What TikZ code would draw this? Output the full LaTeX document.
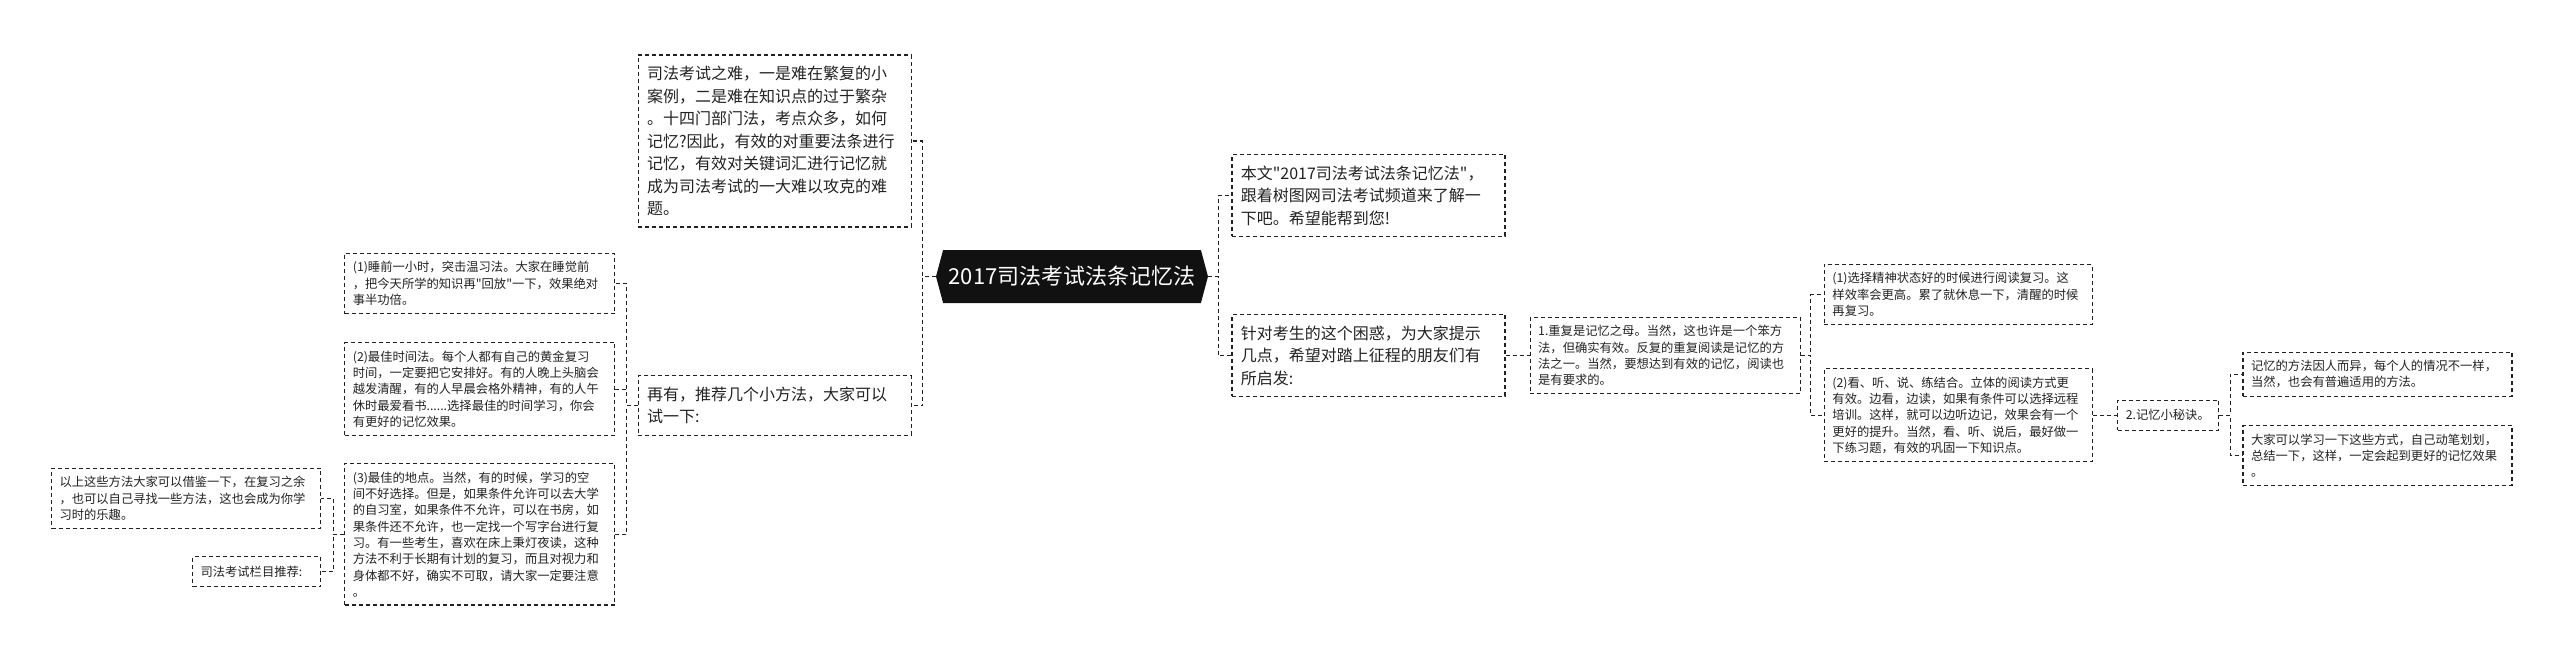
\documentclass[tikz,border=0pt]{standalone}
\usepackage{fontspec}
\newfontfamily\cjkfont{Noto Sans CJK SC}
\usetikzlibrary{positioning,shapes.symbols}
\definecolor{ink}{HTML}{222222}
\definecolor{rootfill}{HTML}{111111}

\begin{document}
\begin{tikzpicture}[
  box/.style={draw=ink, text=ink, line width=1.3pt, dash pattern=on 4pt off 3pt, align=left},
  midbox/.style={box, inner xsep=9pt, inner ysep=11pt, text width=255pt,
    font=\cjkfont\fontsize{16}{22.5}\selectfont},
  smallbox/.style={box, inner xsep=8pt, inner ysep=8pt, text width=254pt,
    font=\cjkfont\fontsize{12.3}{16.3}\selectfont},
  rootbox/.style={signal, signal to=west and east, signal pointer angle=150,
    fill=rootfill, text=white, minimum width=272pt, minimum height=53pt,
    font=\cjkfont\fontsize{22}{26}\selectfont},
  link/.style={draw=ink, line width=1.3pt, dash pattern=on 4pt off 3pt},
  elbow/.style={to path={-- ++(#1,0) |- (\tikztotarget)}}
]
  \useasboundingbox (0,0) rectangle (2560pt,-664pt);
  \node (0) [rootbox] at (1072pt,-276.5pt) {2017司法考试法条记忆法};
  % left branch
  \node (1) [midbox, left=24pt of 0, yshift=135.5pt] {司法考试之难，一是难在繁复的小\\案例，二是难在知识点的过于繁杂\\。十四门部门法，考点众多，如何\\记忆?因此，有效的对重要法条进行\\记忆，有效对关键词汇进行记忆就\\成为司法考试的一大难以攻克的难\\题。};
  \node (2) [midbox, left=24pt of 0, yshift=-129pt] {再有，推荐几个小方法，大家可以\\试一下:};
  \node (3) [smallbox, left=22pt of 2, yshift=122pt] {(1)睡前一小时，突击温习法。大家在睡觉前\\，把今天所学的知识再"回放"一下，效果绝对\\事半功倍。};
  \node (4) [smallbox, below=28pt of 3] {(2)最佳时间法。每个人都有自己的黄金复习\\时间，一定要把它安排好。有的人晚上头脑会\\越发清醒，有的人早晨会格外精神，有的人午\\休时最爱看书......选择最佳的时间学习，你会\\有更好的记忆效果。};
  \node (5) [smallbox, below=27pt of 4] {(3)最佳的地点。当然，有的时候，学习的空\\间不好选择。但是，如果条件允许可以去大学\\的自习室，如果条件不允许，可以在书房，如\\果条件还不允许，也一定找一个写字台进行复\\习。有一些考生，喜欢在床上秉灯夜读，这种\\方法不利于长期有计划的复习，而且对视力和\\身体都不好，确实不可取，请大家一定要注意\\。};
  \node (6) [smallbox, text width=253pt, left=23pt of 5, yshift=36pt] {以上这些方法大家可以借鉴一下，在复习之余\\，也可以自己寻找一些方法，这也会成为你学\\习时的乐趣。};
  \node (7) [smallbox, text width=112pt, minimum height=30pt, below=27pt of 6.south east, anchor=north east] {司法考试栏目推荐:};
  % right branch
  \node (8) [midbox, right=23pt of 0, yshift=81pt] {本文"2017司法考试法条记忆法"，\\跟着树图网司法考试频道来了解一\\下吧。希望能帮到您!};
  \node (9) [midbox, right=23pt of 0, yshift=-79pt] {针对考生的这个困惑，为大家提示\\几点，希望对踏上征程的朋友们有\\所启发:};
  \node (10) [smallbox, right=24pt of 9] {1.重复是记忆之母。当然，这也许是一个笨方\\法，但确实有效。反复的重复阅读是记忆的方\\法之一。当然，要想达到有效的记忆，阅读也\\是有要求的。};
  \node (11) [smallbox, text width=252pt, right=23pt of 10, yshift=61pt] {(1)选择精神状态好的时候进行阅读复习。这\\样效率会更高。累了就休息一下，清醒的时候\\再复习。};
  \node (12) [smallbox, text width=252pt, below=43pt of 11] {(2)看、听、说、练结合。立体的阅读方式更\\有效。边看，边读，如果有条件可以选择远程\\培训。这样，就可以边听边记，效果会有一个\\更好的提升。当然，看、听、说后，最好做一\\下练习题，有效的巩固一下知识点。};
  \node (13) [smallbox, text width=85pt, minimum height=30pt, right=24pt of 12] {2.记忆小秘诀。};
  \node (14) [smallbox, text width=253pt, right=23pt of 13, yshift=41pt] {记忆的方法因人而异，每个人的情况不一样，\\当然，也会有普遍适用的方法。};
  \node (15) [smallbox, text width=253pt, below=28pt of 14] {大家可以学习一下这些方式，自己动笔划划，\\总结一下，这样，一定会起到更好的记忆效果\\。};
  \path[link] (0.west) edge[elbow=-13pt] (1.east)
              (0.west) edge[elbow=-13pt] (2.east)
              (2.west) edge[elbow=-11pt] (3.east)
              (2.west) edge[elbow=-11pt] (4.east)
              (2.west) edge[elbow=-11pt] (5.east)
              (5.west) edge[elbow=-11pt] (6.east)
              (5.west) edge[elbow=-11pt] (7.east)
              (0.east) edge[elbow=10pt] (8.west)
              (0.east) edge[elbow=10pt] (9.west)
              (9.east) edge (10.west)
              (10.east) edge[elbow=10pt] (11.west)
              (10.east) edge[elbow=10pt] (12.west)
              (12.east) edge (13.west)
              (13.east) edge[elbow=11pt] (14.west)
              (13.east) edge[elbow=11pt] (15.west)
              ;
\end{tikzpicture}
\end{document}
